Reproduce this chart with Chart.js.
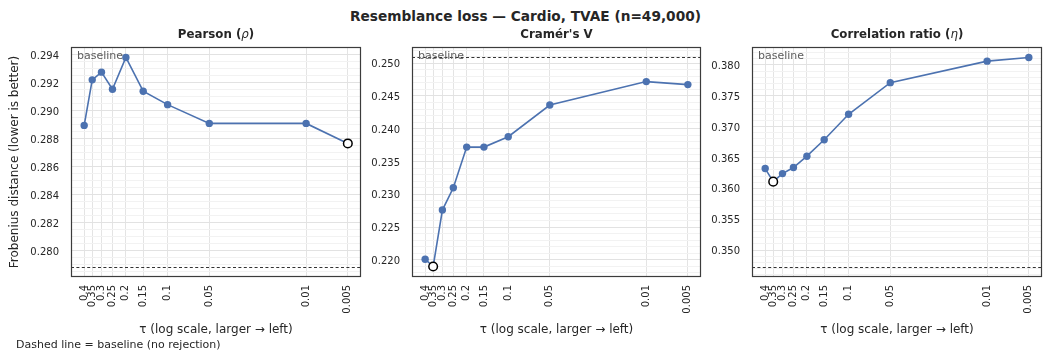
<!DOCTYPE html>
<html><head><meta charset="utf-8">
<script src="https://cdn.jsdelivr.net/npm/chart.js@4.4.1/dist/chart.umd.min.js"></script>
<style>
html,body{margin:0;padding:0;background:#fff;width:1051px;height:361px;overflow:hidden;font-family:"DejaVu Sans";color:#262626}
canvas{position:absolute;top:0}
#sup{position:absolute;left:0;top:8px;width:1051px;text-align:center;font-weight:bold;font-size:13.7px;line-height:17px;font-family:"DejaVu Sans"}
#foot{position:absolute;left:16px;top:338px;font-size:11px;line-height:14px;font-family:"DejaVu Sans"}
</style></head><body>
<div id="sup">Resemblance loss — Cardio, TVAE (n=49,000)</div>
<canvas id="c0" width="365" height="361" style="left:0px;width:365px;height:361px"></canvas>
<canvas id="c1" width="340" height="361" style="left:365px;width:340px;height:361px"></canvas>
<canvas id="c2" width="346" height="361" style="left:705px;width:346px;height:361px"></canvas>
<div id="foot">Dashed line = baseline (no rejection)</div>
<script>
// ---- data ----
const tau = [0.4, 0.35, 0.3, 0.25, 0.2, 0.15, 0.1, 0.05, 0.01, 0.005];
const tauLabels = ['0.4', '0.35', '0.3', '0.25', '0.2', '0.15', '0.1', '0.05', '0.01', '0.005'];
const pearson = [0.28896, 0.29221, 0.29276, 0.29154, 0.29381, 0.29140, 0.29044, 0.28910, 0.28910, 0.28767];
const cramer = [0.22010, 0.21898, 0.22760, 0.23100, 0.23720, 0.23720, 0.23878, 0.24362, 0.24719, 0.24673];
const corrRatio = [0.36321, 0.36109, 0.36239, 0.36337, 0.36521, 0.36788, 0.37200, 0.37712, 0.38060, 0.38120];
const baselinePearson = 0.27888;
const baselineCramer = 0.25087;
const baselineCorr = 0.34734;
const yTicksPearson = [0.280, 0.282, 0.284, 0.286, 0.288, 0.290, 0.292, 0.294];
const yTicksCramer = [0.220, 0.225, 0.230, 0.235, 0.240, 0.245, 0.250];
const yTicksCorr = [0.350, 0.355, 0.360, 0.365, 0.370, 0.375, 0.380];
const titlePearson = [['Pearson (', 'b'], ['ρ', 'i'], [')', 'b']];
const titleCramer = [["Cramér's V", 'b']];
const titleCorr = [['Correlation ratio (', 'b'], ['η', 'i'], [')', 'b']];
const xTitle = 'τ (log scale, larger → left)';
const yTitle = 'Frobenius distance (lower is better)';

const FONT = '"DejaVu Sans"';
const TXT = '#262626';

function panelPlugin(baseline, segs) {
  return {
    id: 'panel',
    beforeDatasetsDraw(chart) {
      const {ctx, chartArea: a, scales: {y}} = chart;
      const py = Math.round(y.getPixelForValue(baseline)) + 0.5;
      ctx.save();
      ctx.strokeStyle = '#333333'; ctx.lineWidth = 1.2; ctx.setLineDash([3, 2.4]);
      ctx.beginPath(); ctx.moveTo(a.left, py); ctx.lineTo(a.right, py); ctx.stroke();
      ctx.setLineDash([]);
      ctx.fillStyle = '#5c5c5c'; ctx.font = '11px ' + FONT; ctx.textBaseline = 'middle'; ctx.textAlign = 'left';
      ctx.fillText('baseline', a.left + 6, a.top + 9.5);
      ctx.restore();
    },
    afterDraw(chart) {
      const {ctx, chartArea: a} = chart;
      ctx.save();
      ctx.strokeStyle = '#3c3c3c'; ctx.lineWidth = 1.2;
      ctx.strokeRect(a.left + 0.5, a.top + 0.5, a.right - a.left - 1, a.bottom - a.top - 1);
      const fontOf = s => (s === 'i' ? 'italic 11.8px ' : 'bold 11.8px ') + FONT;
      let total = 0;
      segs.forEach(([t, s]) => { ctx.font = fontOf(s); total += ctx.measureText(t).width; });
      let x = (a.left + a.right) / 2 - total / 2;
      ctx.fillStyle = TXT; ctx.textBaseline = 'middle'; ctx.textAlign = 'left';
      segs.forEach(([t, s]) => { ctx.font = fontOf(s); ctx.fillText(t, x, 35); x += ctx.measureText(t).width; });
      ctx.restore();
    }
  };
}

function makeChart(id, values, baseline, yMajor, minorDiv, yWidth, padRight, segs, showYTitle) {
  const lo = Math.min(...values, baseline), hi = Math.max(...values, baseline);
  const m = (hi - lo) * 0.05;
  const lt = tau.map(Math.log10);
  const lmin = Math.min(...lt), lmax = Math.max(...lt), lm = (lmax - lmin) * 0.05;
  const best = values.indexOf(Math.min(...values));
  const minorStep = Math.round((yMajor[1] - yMajor[0]) / minorDiv * 1e7) / 1e7;
  new Chart(document.getElementById(id), {
    type: 'line',
    data: {datasets: [{
      data: tau.map((t, i) => ({x: t, y: values[i]})),
      borderColor: '#4C72B0', borderWidth: 1.6, tension: 0, clip: false,
      pointRadius: c => c.dataIndex === best ? 4.3 : 3.7,
      pointBackgroundColor: c => c.dataIndex === best ? '#ffffff' : '#4C72B0',
      pointBorderColor: c => c.dataIndex === best ? '#000000' : '#4C72B0',
      pointBorderWidth: c => c.dataIndex === best ? 1.5 : 0
    }]},
    options: {
      responsive: false, animation: false, devicePixelRatio: 1,
      layout: {autoPadding: false, padding: {top: 47, right: padRight, left: 0, bottom: 0}},
      plugins: {legend: {display: false}, tooltip: {enabled: false}, title: {display: false}},
      events: [],
      scales: {
        x: {
          type: 'logarithmic', reverse: true,
          min: Math.pow(10, lmin - lm), max: Math.pow(10, lmax + lm),
          afterBuildTicks: s => { s.ticks = tau.map(v => ({value: v})); },
          afterFit: s => { s.height = 84; s.paddingLeft = 0; s.paddingRight = 0; },
          ticks: {autoSkip: false, minRotation: 90, maxRotation: 90, padding: 8, color: TXT,
                  font: {family: 'DejaVu Sans', size: 10}, callback: (v, i) => tauLabels[i]},
          grid: {color: '#e4e4e4', lineWidth: 1, drawTicks: false},
          border: {display: false},
          title: {display: true, text: xTitle, color: TXT, font: {family: 'DejaVu Sans', size: 12},
                  padding: {top: 0, bottom: 24}}
        },
        y: {
          type: 'linear', min: lo - m, max: hi + m,
          afterBuildTicks: s => {
            const k0 = Math.ceil((lo - m) / minorStep - 1e-9), k1 = Math.floor((hi + m) / minorStep + 1e-9);
            const t = [];
            for (let k = k0; k <= k1; k++) {
              const v = k * minorStep;
              t.push({value: v, major: yMajor.some(mv => Math.abs(mv - v) < minorStep / 10)});
            }
            s.ticks = t;
          },
          afterFit: s => { s.width = yWidth; s.paddingTop = 0; s.paddingBottom = 0; },
          ticks: {autoSkip: false, padding: 12, labelOffset: 1.5, color: TXT, font: {family: 'DejaVu Sans', size: 10},
                  callback: (v, i, ticks) => ticks[i].major ? v.toFixed(3) : ''},
          grid: {color: c => (c.tick && c.tick.major) ? '#e2e2e2' : '#f2f2f2', lineWidth: 1, drawTicks: false},
          border: {display: false},
          title: {display: showYTitle, text: yTitle, color: TXT, font: {family: 'DejaVu Sans', size: 12},
                  padding: {top: 8, bottom: 0}}
        }
      }
    },
    plugins: [panelPlugin(baseline, segs)]
  });
}

makeChart('c0', pearson, baselinePearson, yTicksPearson, 4, 71, 4, titlePearson, true);
makeChart('c1', cramer, baselineCramer, yTicksCramer, 5, 47, 4, titleCramer, false);
makeChart('c2', corrRatio, baselineCorr, yTicksCorr, 5, 47, 9, titleCorr, false);
</script>
</body></html>
